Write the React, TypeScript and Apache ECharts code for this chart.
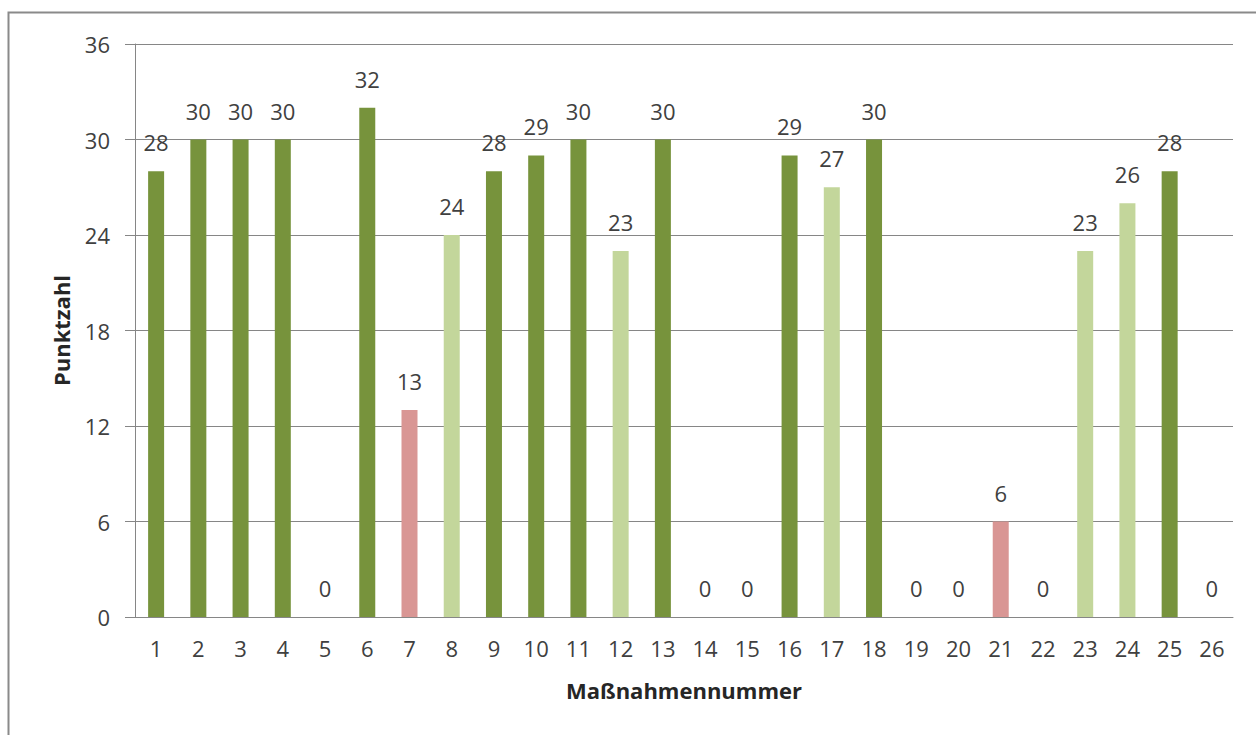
import React, { useEffect, useRef } from "react";
import * as echarts from "echarts";

const categories = ["1","2","3","4","5","6","7","8","9","10","11","12","13","14","15","16","17","18","19","20","21","22","23","24","25","26"];
const values = [28,30,30,30,0,32,13,24,28,29,30,23,30,0,0,29,27,30,0,0,6,0,23,26,28,0];
// d = dark green, l = light green, r = red
const groups = ["d","d","d","d","d","d","r","l","d","d","d","l","d","d","d","d","l","d","d","d","r","d","l","l","d","d"];
const yTicks = [0, 6, 12, 18, 24, 30, 36];

const colorMap: Record<string, string> = { d: "#77933C", l: "#C3D69B", r: "#D99694" };
const FONT = "'Open Sans', 'Noto Sans', sans-serif";

export default function App() {
  const ref = useRef<HTMLDivElement>(null);
  useEffect(() => {
    const chart = echarts.init(ref.current!, null, { renderer: "svg" });
    chart.setOption({
      animation: false,
      backgroundColor: "#fff",
      graphic: [
        {
          type: "rect",
          shape: { x: 8.5, y: 12.5, width: 1300, height: 800 },
          style: { fill: "none", stroke: "#8a8a8a", lineWidth: 2 },
          silent: true,
        },
      ],
      grid: { left: 135, right: 23, top: 44, bottom: 118 },
      xAxis: {
        type: "category",
        data: categories,
        name: "Maßnahmennummer",
        nameLocation: "middle",
        nameGap: 62,
        nameTextStyle: { fontFamily: FONT, fontSize: 22, fontWeight: "bold", color: "#262626" },
        axisLine: { lineStyle: { color: "#868686", width: 1 } },
        axisTick: { show: false },
        axisLabel: { fontFamily: FONT, fontSize: 22, color: "#404040", margin: 20 },
      },
      yAxis: {
        type: "value",
        min: yTicks[0],
        max: yTicks[yTicks.length - 1],
        interval: 6,
        name: "Punktzahl",
        nameLocation: "middle",
        nameGap: 63,
        nameRotate: 90,
        nameTextStyle: { fontFamily: FONT, fontSize: 22, fontWeight: "bold", color: "#262626" },
        axisLine: { show: true, lineStyle: { color: "#868686", width: 1 } },
        axisTick: { show: true, length: 10, lineStyle: { color: "#868686" } },
        axisLabel: { fontFamily: FONT, fontSize: 22, color: "#404040", margin: 25 },
        splitLine: { lineStyle: { color: "#868686", width: 1 } },
      },
      series: [
        {
          type: "bar",
          barWidth: 16,
          data: values.map((v, i) => ({ value: v, itemStyle: { color: colorMap[groups[i]] } })),
          label: {
            show: true,
            position: "top",
            distance: 18,
            fontFamily: FONT,
            fontSize: 22,
            color: "#404040",
          },
        },
      ],
    });
    return () => chart.dispose();
  }, []);
  return (
    <div
      ref={ref}
      style={{ position: "fixed", left: 0, top: 0, width: 1256, height: 735 }}
    />
  );
}
